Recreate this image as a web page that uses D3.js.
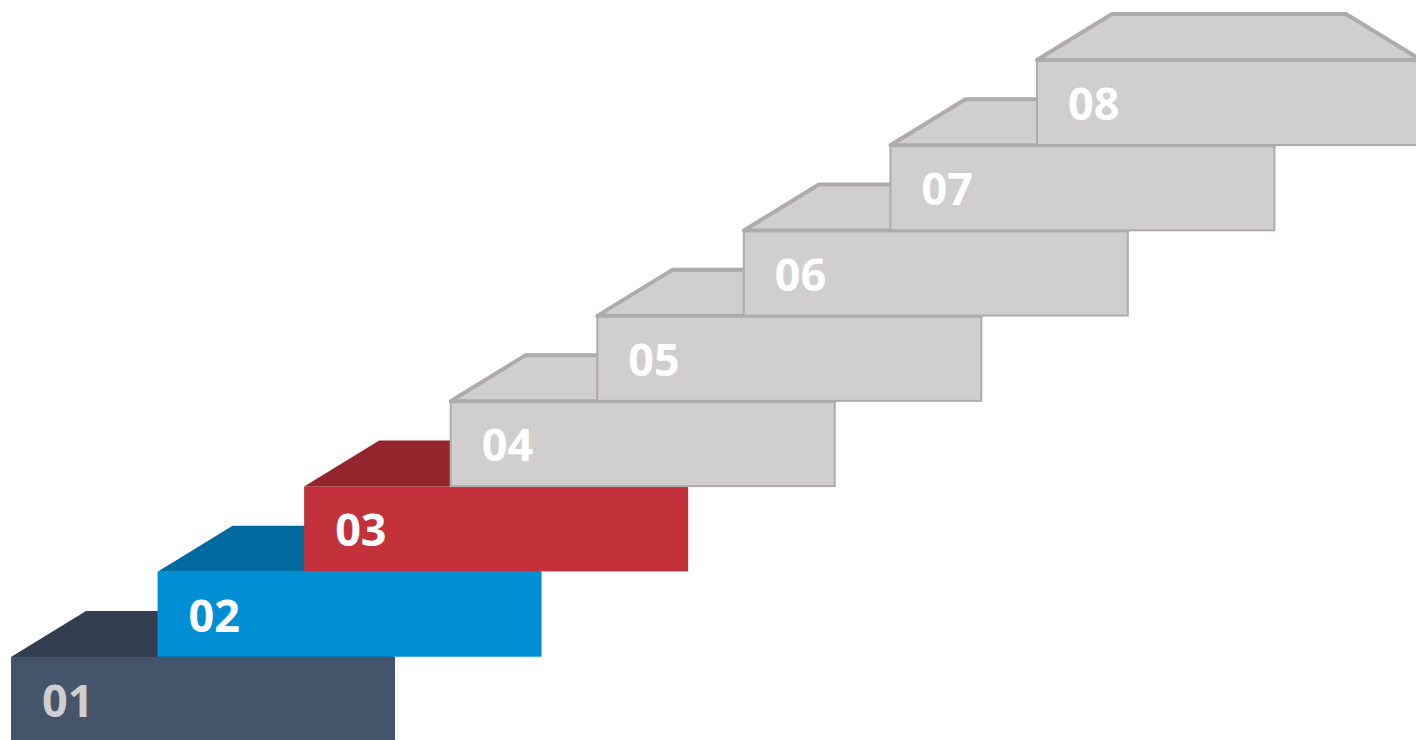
<!DOCTYPE html>
<html>
<head>
<meta charset="utf-8">
<script src="https://cdn.jsdelivr.net/npm/d3@7"></script>
<style>
body { margin: 0; background: #fff; }
svg { display: block; }
.label { font-family: "Open Sans", sans-serif; font-weight: 700; font-size: 45px; }
</style>
</head>
<body>
<svg id="chart" width="1416" height="740"></svg>
<script>
// step labels, bottom to top
const labels = ["01", "02", "03", "04", "05", "06", "07", "08"];
// which steps are highlighted (coloured) vs greyed out
const states = ["dark", "blue", "red", "grey", "grey", "grey", "grey", "grey"];

const palette = {
  dark: { front: "#44546a", top: "#333f50", text: "#d0cece", stroke: null },
  blue: { front: "#008fd5", top: "#006a9f", text: "#ffffff", stroke: null },
  red:  { front: "#c3313a", top: "#94252d", text: "#ffffff", stroke: null },
  grey: { front: "#d0cece", top: "#d0cece", text: "#ffffff", stroke: "#aeabab" }
};

const W = 1416, H = 740;
const stepW = 384, stepH = 85, topH = 46, inset = 75;

const steps = labels.map((l, i) => ({ label: l, idx: i, state: states[i] }));

const x = d3.scaleLinear().domain([0, labels.length - 1]).range([11, 1037]);
const y = d3.scaleLinear().domain([0, labels.length - 1]).range([657, 60]);

const svg = d3.select("#chart");

const g = svg.selectAll(".step")
  .data(steps)
  .join("g")
  .attr("class", "step")
  .attr("transform", d => `translate(${x(d.idx)},${y(d.idx)})`);

// front face
g.append("rect")
  .attr("x", 0)
  .attr("y", 0)
  .attr("width", stepW)
  .attr("height", stepH)
  .attr("fill", d => palette[d.state].front)
  .attr("stroke", d => palette[d.state].stroke || "none")
  .attr("stroke-width", 2);

// top face
g.append("path")
  .attr("d", `M0,0 L${inset},${-topH} L${stepW - inset},${-topH} L${stepW},0 Z`)
  .attr("fill", d => palette[d.state].top)
  .attr("stroke", d => palette[d.state].stroke || "none")
  .attr("stroke-width", 4)
  .attr("stroke-linejoin", "round");

// label
g.append("text")
  .attr("class", "label")
  .attr("x", 31)
  .attr("y", 60)
  .attr("fill", d => palette[d.state].text)
  .text(d => d.label);
</script>
</body>
</html>
